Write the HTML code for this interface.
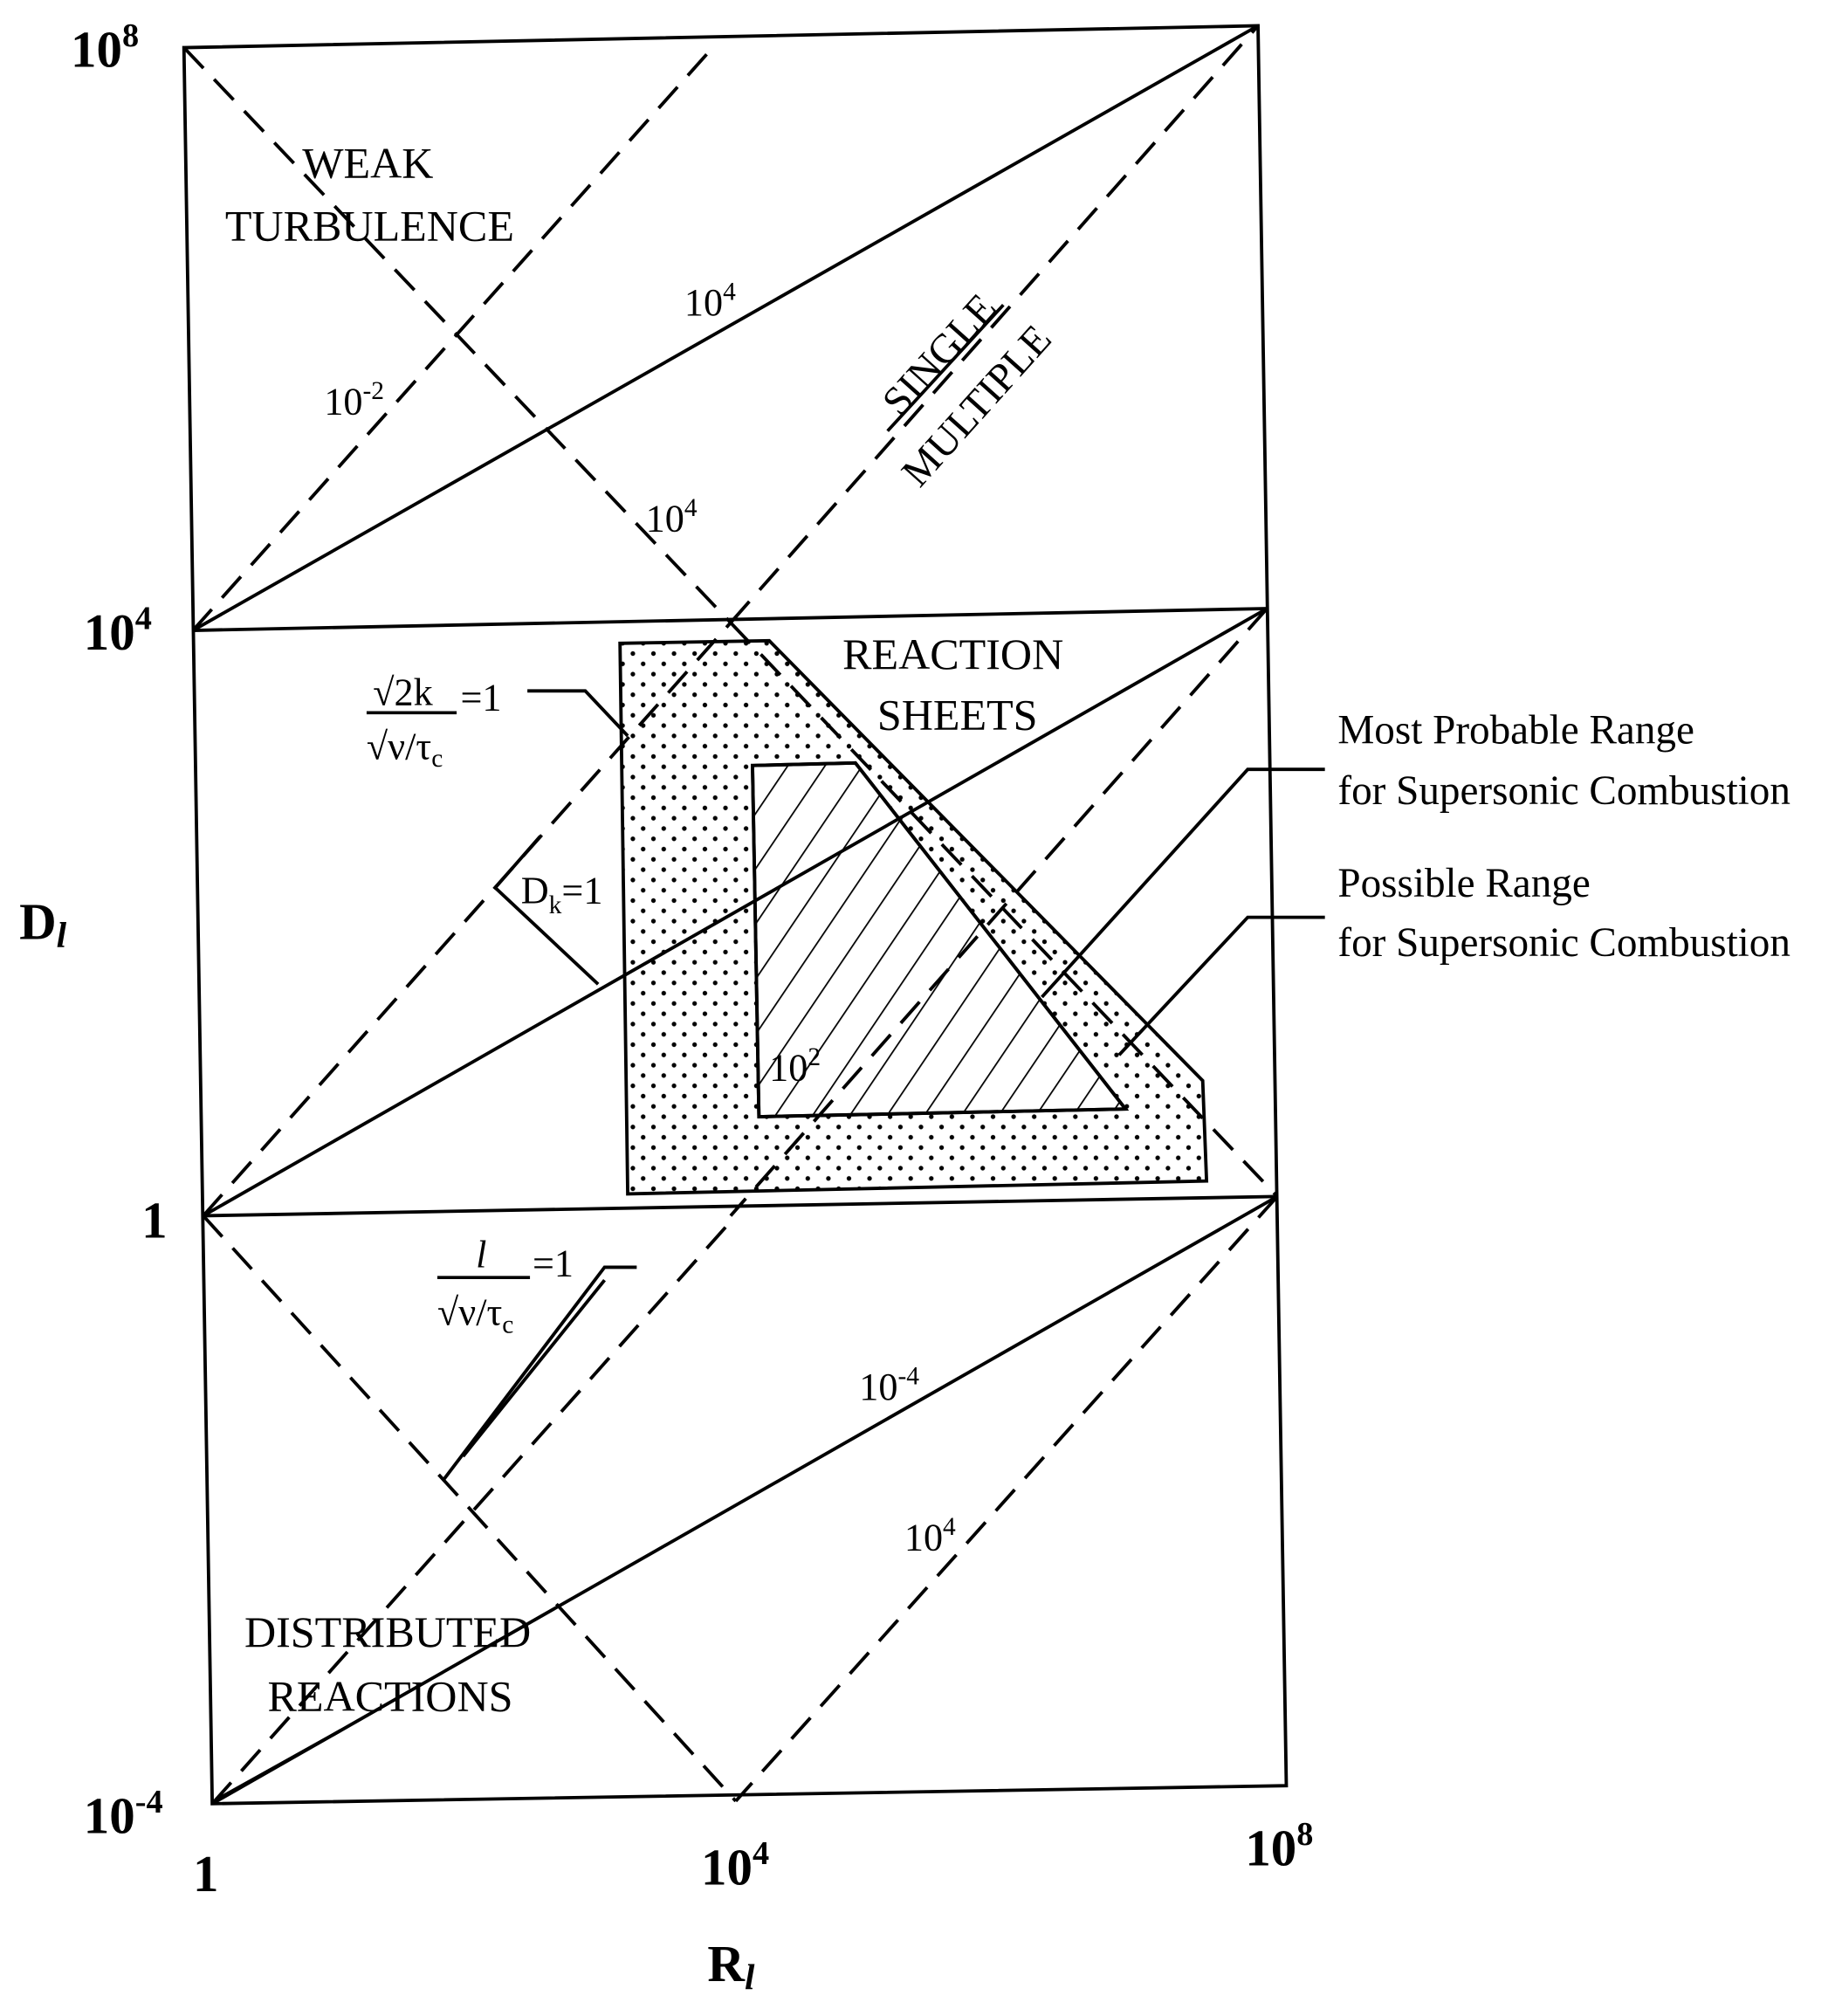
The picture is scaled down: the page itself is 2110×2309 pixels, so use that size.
<!DOCTYPE html>
<html><head><style>html,body{margin:0;padding:0;background:#fff}svg{display:block}</style></head>
<body>
<svg width="2110" height="2309" viewBox="0 0 1432 1567" xmlns="http://www.w3.org/2000/svg" font-family="Liberation Serif, serif">
<defs>
<pattern id="dots" width="16" height="16" patternUnits="userSpaceOnUse"><circle cx="4" cy="4" r="1.8" fill="#000"/><circle cx="12" cy="12" r="1.8" fill="#000"/></pattern>
<pattern id="hatch" width="24" height="24" patternUnits="userSpaceOnUse" patternTransform="rotate(34)"><line x1="0" y1="0" x2="0" y2="24" stroke="#000" stroke-width="2.4"/></pattern>
</defs>
<g stroke="#000" stroke-width="2.6" fill="none">
<polygon points="482,500 598,498 935,840 938,918 488,928" fill="url(#dots)"/>
<polygon points="585,595 665,593 875,862 590,868" fill="#fff"/>
<polygon points="585,595 665,593 875,862 590,868" fill="url(#hatch)"/>
<polygon points="143,37 978,20 1000,1388 165,1402"/>
<line x1="150" y1="490" x2="985" y2="473"/>
<line x1="158" y1="945" x2="993" y2="930"/>
<line x1="150" y1="490" x2="978" y2="20"/>
<line x1="158" y1="945" x2="985" y2="473"/>
<line x1="165" y1="1402" x2="993" y2="930"/>
<g stroke-dasharray="22,12">
<line x1="143" y1="37" x2="568" y2="484"/>
<line x1="150" y1="490" x2="554" y2="37"/>
<line x1="568" y1="484" x2="978" y2="20"/>
<line x1="158" y1="945" x2="568" y2="484"/>
<line x1="568" y1="484" x2="993" y2="930"/>
<line x1="985" y1="473" x2="568" y2="945"/>
<line x1="158" y1="945" x2="572" y2="1400"/>
<line x1="165" y1="1402" x2="572" y2="945"/>
<line x1="993" y1="930" x2="572" y2="1400"/>
</g>
<polyline points="410,537 455,537 488,572"/>
<polyline points="420,650 385,690 465,765"/>
<polyline points="345,1150 470,985 495,985"/>
<line x1="360" y1="1132" x2="470" y2="995"/>
<line x1="265" y1="1345" x2="170" y2="1398"/>
<polyline points="1030,598 970,598 810,775"/>
<polyline points="1030,713 970,713 870,820"/>
</g>
<g font-size="34" fill="#000">
<text x="55" y="52" font-weight="bold" font-size="40">10<tspan font-size="26" dy="-16">8</tspan></text>
<text x="65" y="505" font-weight="bold" font-size="40">10<tspan font-size="26" dy="-16">4</tspan></text>
<text x="110" y="962" font-weight="bold" font-size="40">1</text>
<text x="65" y="1425" font-weight="bold" font-size="40">10<tspan font-size="26" dy="-16">-4</tspan></text>
<text x="150" y="1470" font-weight="bold" font-size="40">1</text>
<text x="545" y="1465" font-weight="bold" font-size="40">10<tspan font-size="26" dy="-16">4</tspan></text>
<text x="968" y="1450" font-weight="bold" font-size="40">10<tspan font-size="26" dy="-16">8</tspan></text>
<text x="15" y="730" font-weight="bold" font-size="40">D<tspan font-size="28" font-style="italic" dy="6">l</tspan></text>
<text x="550" y="1540" font-weight="bold" font-size="40">R<tspan font-size="28" font-style="italic" dy="6">l</tspan></text>
<text x="235" y="138">WEAK</text>
<text x="175" y="187">TURBULENCE</text>
<text x="655" y="520">REACTION</text>
<text x="682" y="567">SHEETS</text>
<text x="190" y="1280">DISTRIBUTED</text>
<text x="208" y="1330">REACTIONS</text>
<text x="1040" y="578" font-size="32">Most Probable Range</text>
<text x="1040" y="625" font-size="32">for Supersonic Combustion</text>
<text x="1040" y="697" font-size="32">Possible Range</text>
<text x="1040" y="743" font-size="32">for Supersonic Combustion</text>
<text x="532" y="245" font-size="30">10<tspan font-size="20" dy="-12">4</tspan></text>
<text x="252" y="322" font-size="30">10<tspan font-size="20" dy="-12">-2</tspan></text>
<text x="502" y="413" font-size="30">10<tspan font-size="20" dy="-12">4</tspan></text>
<text x="598" y="840" font-size="30">10<tspan font-size="20" dy="-12">2</tspan></text>
<text x="668" y="1088" font-size="30">10<tspan font-size="20" dy="-12">-4</tspan></text>
<text x="703" y="1205" font-size="30">10<tspan font-size="20" dy="-12">4</tspan></text>
<text transform="translate(700,325) rotate(-48)" font-size="32">SINGLE</text>
<line x1="690" y1="335" x2="780" y2="237" stroke="#000" stroke-width="2.5"/>
<text transform="translate(715,380) rotate(-48)" font-size="32">MULTIPLE</text>
<text x="290" y="548" font-size="30">√2k</text>
<line x1="285" y1="554" x2="355" y2="554" stroke="#000" stroke-width="2.5"/>
<text x="358" y="552" font-size="30">=1</text>
<text x="285" y="590" font-size="30">√ν/τ<tspan font-size="20" dy="6">c</tspan></text>
<text x="405" y="702" font-size="30">D<tspan font-size="20" dy="8">k</tspan><tspan dy="-8">=1</tspan></text>
<text x="370" y="985" font-size="30" font-style="italic">l</text>
<line x1="340" y1="993" x2="412" y2="993" stroke="#000" stroke-width="2.5"/>
<text x="414" y="992" font-size="30">=1</text>
<text x="340" y="1030" font-size="30">√ν/τ<tspan font-size="20" dy="6">c</tspan></text>
</g>
</svg>
</body></html>
